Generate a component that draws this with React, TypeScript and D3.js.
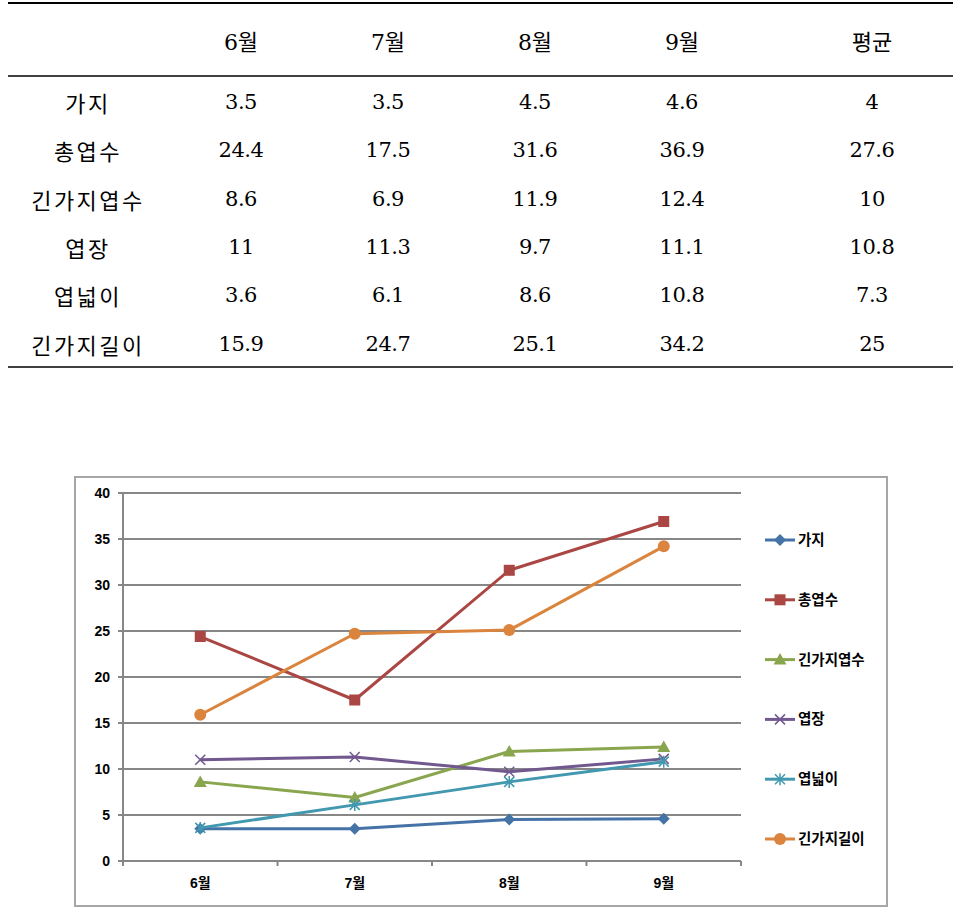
import React from "react";
import * as d3 from "d3";

const months = ["6월", "7월", "8월", "9월"];
const headerLabels = ["6월", "7월", "8월", "9월", "평균"];
const seriesNames = ["가지", "총엽수", "긴가지엽수", "엽장", "엽넓이", "긴가지길이"];
const gaji = [3.5, 3.5, 4.5, 4.6];
const chongYeopsu = [24.4, 17.5, 31.6, 36.9];
const ginGajiYeopsu = [8.6, 6.9, 11.9, 12.4];
const yeopjang = [11, 11.3, 9.7, 11.1];
const yeopneobi = [3.6, 6.1, 8.6, 10.8];
const ginGajiGiri = [15.9, 24.7, 25.1, 34.2];
const averages = ["4", "27.6", "10", "10.8", "7.3", "25"];
const yTicks = [0, 5, 10, 15, 20, 25, 30, 35, 40];

const seriesValues = [gaji, chongYeopsu, ginGajiYeopsu, yeopjang, yeopneobi, ginGajiGiri];
const colors = ["#4572A7", "#AA4643", "#89A54E", "#71588F", "#4198AF", "#DB843D"];
const markers = ["diamond", "square", "triangle", "x", "star", "circle"];

function Marker({ type, x, y, color }: { type: string; x: number; y: number; color: string }) {
  if (type === "diamond") {
    const s = 6;
    return <path d={`M${x},${y - s}L${x + s},${y}L${x},${y + s}L${x - s},${y}Z`} fill={color} />;
  }
  if (type === "square") {
    return <rect x={x - 5.5} y={y - 5.5} width={11} height={11} fill={color} />;
  }
  if (type === "triangle") {
    return <path d={`M${x},${y - 6.5}L${x + 6.5},${y + 5}L${x - 6.5},${y + 5}Z`} fill={color} />;
  }
  if (type === "circle") {
    return <circle cx={x} cy={y} r={6} fill={color} />;
  }
  if (type === "x") {
    const s = 5;
    return (
      <path d={`M${x - s},${y - s}L${x + s},${y + s}M${x - s},${y + s}L${x + s},${y - s}`} stroke={color} strokeWidth={1.5} fill="none" />
    );
  }
  const s = 5;
  return (
    <path
      d={`M${x - s},${y - s}L${x + s},${y + s}M${x - s},${y + s}L${x + s},${y - s}M${x},${y - s - 1}L${x},${y + s + 1}`}
      stroke={color}
      strokeWidth={1.5}
      fill="none"
    />
  );
}

export default function App() {
  const colX = [241, 388, 535, 682, 872];
  const rowY = d3.range(6).map((i) => 102 + i * 48.3);
  const serif = "'DejaVu Serif', serif";
  const kr = "'Noto Sans CJK KR', sans-serif";

  const x = d3.scaleBand<string>().domain(months).range([123, 741]);
  const y = d3.scaleLinear().domain([0, 40]).range([861, 493]);
  const cx = (m: string) => (x(m) as number) + x.bandwidth() / 2;
  const line = d3
    .line<number>()
    .x((_, i) => cx(months[i]))
    .y((d) => y(d));

  const tableValues = seriesValues.map((vals, i) => [...vals.map(String), averages[i]]);

  const legendY = d3.range(6).map((i) => 540 + i * 59.8);
  const chartFont = "'Liberation Sans', Arial, 'Noto Sans CJK KR', sans-serif";

  return (
    <svg width={964} height={924} style={{ position: "absolute", left: 0, top: 0, background: "#fff" }}>
      <rect x={0} y={0} width={964} height={924} fill="#fff" />
      <line x1={8} x2={953} y1={3} y2={3} stroke="#000" strokeWidth={2} />
      <line x1={8} x2={953} y1={76} y2={76} stroke="#000" strokeWidth={1.5} />
      <line x1={8} x2={953} y1={367} y2={367} stroke="#000" strokeWidth={1.5} />
      {headerLabels.map((h, i) => (
        <text key={h} x={colX[i]} y={42} textAnchor="middle" dominantBaseline="central" fontFamily={serif + ", 'Noto Sans CJK KR'"} fontSize={22}>
          {h}
        </text>
      ))}
      {seriesNames.map((n, i) => (
        <text
          key={n}
          x={88}
          y={rowY[i]}
          textAnchor="middle"
          dominantBaseline="central"
          fontFamily={kr}
          fontSize={22}
          letterSpacing={2.5}
        >
          {n}
        </text>
      ))}
      {tableValues.map((row, i) =>
        row.map((v, j) => (
          <text key={`${i}-${j}`} x={colX[j]} y={rowY[i]} textAnchor="middle" dominantBaseline="central" fontFamily={serif} fontSize={21} letterSpacing={-0.5}>
            {v}
          </text>
        ))
      )}

      <rect x={75} y={477} width={812} height={429} fill="#fff" stroke="#a6a6a6" strokeWidth={2} />

      {yTicks.map((t) => (
        <g key={t}>
          <line x1={118} x2={741} y1={y(t)} y2={y(t)} stroke="#878787" strokeWidth={2} />
          <text x={110} y={y(t)} textAnchor="end" dominantBaseline="central" fontFamily={chartFont} fontWeight="bold" fontSize={14}>
            {t}
          </text>
        </g>
      ))}
      <line x1={123} x2={123} y1={y(40)} y2={y(0) + 5} stroke="#878787" strokeWidth={2} />
      {[...months.map((m) => x(m) as number), 741].map((t, i) => (
        <line key={i} x1={t} x2={t} y1={y(0)} y2={y(0) + 5} stroke="#878787" strokeWidth={2} />
      ))}
      {months.map((m) => (
        <text key={m} x={cx(m)} y={883} textAnchor="middle" dominantBaseline="central" fontFamily={chartFont} fontWeight="bold" fontSize={14}>
          {m}
        </text>
      ))}

      {seriesValues.map((vals, i) => (
        <g key={seriesNames[i]}>
          <path d={line(vals) || ""} fill="none" stroke={colors[i]} strokeWidth={3} strokeLinejoin="round" />
          {vals.map((v, j) => (
            <Marker key={j} type={markers[i]} x={cx(months[j])} y={y(v)} color={colors[i]} />
          ))}
        </g>
      ))}

      {seriesNames.map((n, i) => (
        <g key={n}>
          <line x1={765} x2={795} y1={legendY[i]} y2={legendY[i]} stroke={colors[i]} strokeWidth={3} />
          <Marker type={markers[i]} x={780} y={legendY[i]} color={colors[i]} />
          <text x={798} y={legendY[i]} dominantBaseline="central" fontFamily={chartFont} fontWeight="bold" fontSize={14.5}>
            {n}
          </text>
        </g>
      ))}
    </svg>
  );
}
